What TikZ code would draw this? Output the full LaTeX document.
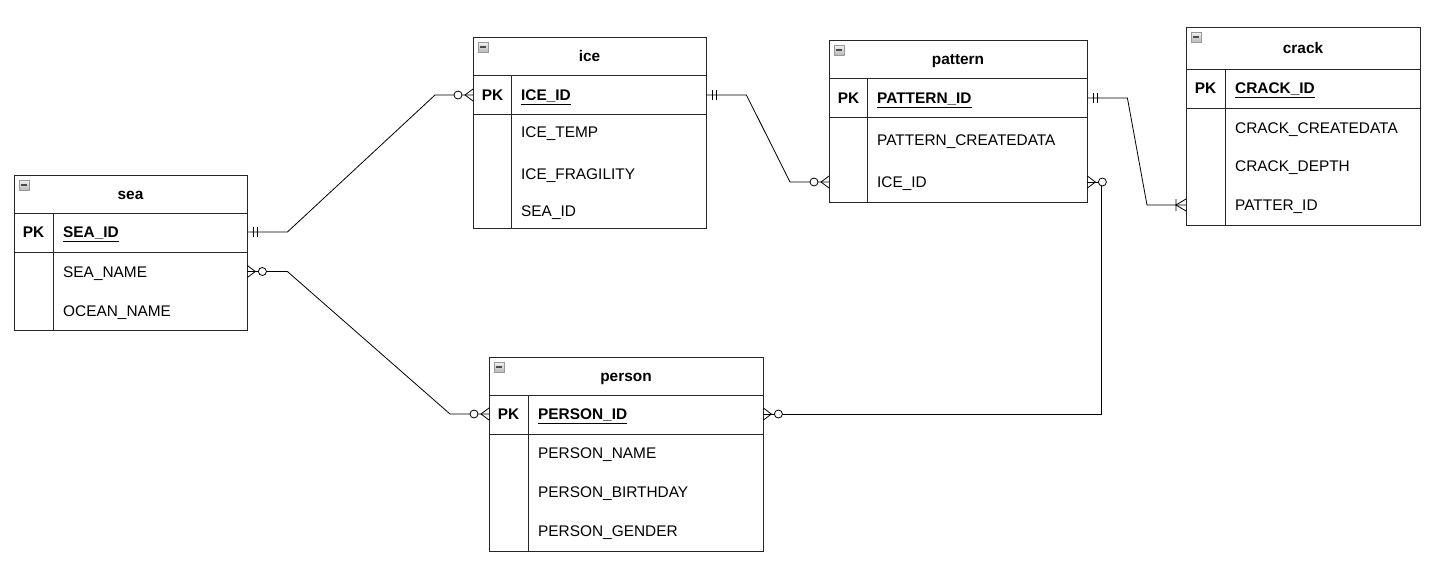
\documentclass[tikz,border=0pt]{standalone}
\usepackage{fontspec}
\setmainfont{Liberation Sans}
\tikzstyle{table}=[draw=black!85, line width=1pt, inner sep=0pt, anchor=north west]
\tikzstyle{grid}=[draw=black!85, line width=1pt]
\tikzstyle{label}=[text height=11pt, text depth=0pt]
\tikzstyle{title}=[label, font=\bfseries]
\tikzstyle{key}=[label, inner sep=0pt, minimum width=38.5pt, anchor=west, font=\bfseries]
\tikzstyle{field}=[label, inner xsep=10pt, inner ysep=0pt, anchor=west, align=left]
\tikzstyle{seafield}=[field, text width=174pt]
\tikzstyle{icefield}=[field, text width=175pt]
\tikzstyle{patternfield}=[field, text width=200pt]
\tikzstyle{crackfield}=[field, text width=175pt]
\tikzstyle{personfield}=[field, text width=215pt]
\tikzstyle{collapse}=[draw=gray!80, top color=gray!10, bottom color=gray!55, minimum size=10pt, inner sep=0pt,
  path picture={\draw[line width=1.6pt, black!70] ([xshift=2pt]path picture bounding box.west) -- ([xshift=-2pt]path picture bounding box.east);}]
\tikzstyle{rel}=[line width=0.8pt]
\tikzset{
  pics/one/.style={code={\draw[rel] (6,-5) -- (6,5) (10,-5) -- (10,5);}},
  pics/zeromany/.style={code={\draw[rel] (0,-6) -- (8,0) -- (0,6); \draw[rel, fill=white] (15,0) circle (4pt);}},
  pics/onemany/.style={code={\draw[rel] (0,-6) -- (10,0) -- (0,6) (10,-6) -- (10,6);}}
}

\begin{document}
\fontsize{15.4}{18}\selectfont
\begin{tikzpicture}[x=1pt, y=-1pt]
        \useasboundingbox (0,0) rectangle (1436,582);
        % sea
        \node[table, minimum width=233pt, minimum height=155pt] (sea) at (14,175) {};
        \node[collapse]                        (seaicon)   at (24,185) {};
        \node[title]                           (seatitle)  at (130.5,194) {sea};
        \draw[grid] (14,213) -- (247,213) (14,252) -- (247,252) (53,213) -- (53,330);
        \node[key]                             (seapk)     at (14,232) {PK};
        \node[seafield, font=\bfseries]        (seaid)     at (53,232) {\underline{SEA\_ID}};
        \node[seafield]                        (seaname)   at (53,271.5) {SEA\_NAME};
        \node[seafield]                        (oceanname) at (53,310.5) {OCEAN\_NAME};
        % ice
        \node[table, minimum width=233pt, minimum height=191pt] (ice) at (473,37) {};
        \node[collapse]                        (iceicon)   at (483,47) {};
        \node[title]                           (icetitle)  at (589.5,56) {ice};
        \draw[grid] (473,75) -- (706,75) (473,114) -- (706,114) (511,75) -- (511,228);
        \node[key]                             (icepk)     at (473,95) {PK};
        \node[icefield, font=\bfseries]        (iceid)     at (511,95) {\underline{ICE\_ID}};
        \node[icefield]                        (icetemp)   at (511,132) {ICE\_TEMP};
        \node[icefield]                        (icefrag)   at (511,174) {ICE\_FRAGILITY};
        \node[icefield]                        (iceseaid)  at (511,211) {SEA\_ID};
        % pattern
        \node[table, minimum width=258pt, minimum height=162pt] (pattern) at (829,40) {};
        \node[collapse]                        (patternicon)   at (839,50) {};
        \node[title]                           (patterntitle)  at (958,59) {pattern};
        \draw[grid] (829,78) -- (1087,78) (829,117) -- (1087,117) (867,78) -- (867,202);
        \node[key]                             (patternpk)     at (829,98) {PK};
        \node[patternfield, font=\bfseries]    (patternid)     at (867,98) {\underline{PATTERN\_ID}};
        \node[patternfield]                    (patterncreate) at (867,140) {PATTERN\_CREATEDATA};
        \node[patternfield]                    (patternice)    at (867,182) {ICE\_ID};
        % crack
        \node[table, minimum width=234pt, minimum height=198pt] (crack) at (1186,27) {};
        \node[collapse]                        (crackicon)   at (1196,37) {};
        \node[title]                           (cracktitle)  at (1303,48) {crack};
        \draw[grid] (1186,69) -- (1420,69) (1186,108) -- (1420,108) (1225,69) -- (1225,225);
        \node[key]                             (crackpk)     at (1186,88) {PK};
        \node[crackfield, font=\bfseries]      (crackid)     at (1225,88) {\underline{CRACK\_ID}};
        \node[crackfield]                      (crackcreate) at (1225,128) {CRACK\_CREATEDATA};
        \node[crackfield]                      (crackdepth)  at (1225,166) {CRACK\_DEPTH};
        \node[crackfield]                      (crackpat)    at (1225,205) {PATTER\_ID};
        % person
        \node[table, minimum width=274pt, minimum height=194pt] (person) at (489,357) {};
        \node[collapse]                        (personicon)   at (499,367) {};
        \node[title]                           (persontitle)  at (626,376) {person};
        \draw[grid] (489,395) -- (763,395) (489,434) -- (763,434) (528,395) -- (528,551);
        \node[key]                             (personpk)     at (489,414) {PK};
        \node[personfield, font=\bfseries]     (personid)     at (528,414) {\underline{PERSON\_ID}};
        \node[personfield]                     (personname)   at (528,453) {PERSON\_NAME};
        \node[personfield]                     (personbirth)  at (528,492) {PERSON\_BIRTHDAY};
        \node[personfield]                     (persongender) at (528,531) {PERSON\_GENDER};
        % relations
        \coordinate (patternin) at (pattern.west |- patternice);
        \coordinate (crackin) at (crack.west |- crackpat);
        \draw[rel] (seaid.east) -- ++(40,0) -- ([xshift=-38pt]icepk.west) -- (icepk.west);
        \draw[rel] (seaname.east) -- ++(40,0) -- ([xshift=-39pt]personpk.west) -- (personpk.west);
        \draw[rel] (iceid.east) -- ++(40,0) -- ([xshift=-39pt]patternin) -- (patternin);
        \draw[rel] (patternid.east) -- ++(40,0) -- ([xshift=-39pt]crackin) -- (crackin);
        \draw[rel] (patternice.east) -- ++(14,0) |- (personid.east);
        \pic at (seaid.east) {one};
        \pic at (iceid.east) {one};
        \pic at (patternid.east) {one};
        \pic[xscale=-1] at (icepk.west) {zeromany};
        \pic[xscale=-1] at (personpk.west) {zeromany};
        \pic[xscale=-1] at (patternin) {zeromany};
        \pic[xscale=-1] at (crackin) {onemany};
        \pic at (seaname.east) {zeromany};
        \pic at (patternice.east) {zeromany};
        \pic at (personid.east) {zeromany};
    \end{tikzpicture}
\end{document}
